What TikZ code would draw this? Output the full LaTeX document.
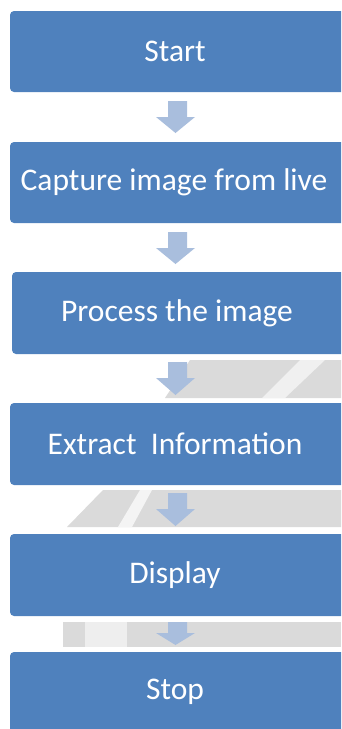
\documentclass[tikz,border=0pt]{standalone}
\usepackage{fontspec}
\setmainfont{Carlito}
\definecolor{boxblue}{HTML}{4F81BD}
\definecolor{arrowblue}{HTML}{A9BEDD}
\definecolor{wmgrey}{HTML}{DADADA}
\begin{document}
\begin{tikzpicture}[x=1pt,y=-1pt,
  stepbox/.style={fill=boxblue, rounded corners=4pt},
  steptext/.style={text=white, font=\fontsize{31.5}{34}\selectfont},
  flowarrow/.style={fill=arrowblue}]
\useasboundingbox (0,0) rectangle (341,729);
\clip (0,0) rectangle (341,729);
% watermark residue
\fill[wmgrey] (190,360) -- (341,360) -- (341,398) -- (165,398) -- cycle;
\fill[white!60!wmgrey] (300,360) -- (325,360) -- (285,398) -- (262,398) -- cycle;
\fill[wmgrey] (103,490) -- (341,490) -- (341,527) -- (67,527) -- cycle;
\fill[white!70!wmgrey] (140,490) -- (152,490) -- (132,527) -- (118,527) -- cycle;
\fill[wmgrey] (63,622) -- (341,622) -- (341,647) -- (63,647) -- cycle;
\fill[white!55!wmgrey] (85,622) -- (127,622) -- (127,647) -- (85,647) -- cycle;
% boxes
\path[stepbox] (10,11) rectangle (345,92);
\node[steptext] (start) at (175,51) {Start};
\path[stepbox] (10,142) rectangle (345,223);
\node[steptext] (capture) at (174,182) {Capture image from live};
\path[stepbox] (12,272) rectangle (345,354);
\node[steptext] (process) at (177,313) {Process the image};
\path[stepbox] (10,403) rectangle (345,485);
\node[steptext] (extract) at (175,444) {Extract\ \ Information};
\path[stepbox] (10,534) rectangle (345,616);
\node[steptext] (display) at (175,575) {Display};
\path[stepbox] (10,652) rectangle (345,740);
\node[steptext] (stop) at (175,692) {Stop};
% arrows
\fill[flowarrow] (168,101) -- (187,101) -- (187,117) -- (195,117) -- (175.5,133) -- (156,117) -- (168,117) -- cycle;
\fill[flowarrow] (168,232) -- (187,232) -- (187,248) -- (195,248) -- (175.5,264) -- (156,248) -- (168,248) -- cycle;
\fill[flowarrow] (168,362) -- (187,362) -- (187,378) -- (195,378) -- (175.5,395) -- (156,378) -- (168,378) -- cycle;
\fill[flowarrow] (168,493) -- (187,493) -- (187,509) -- (195,509) -- (175.5,526) -- (156,509) -- (168,509) -- cycle;
\fill[flowarrow] (168,622) -- (187,622) -- (187,633) -- (195,633) -- (175.5,645) -- (156,633) -- (168,633) -- cycle;
\end{tikzpicture}
\end{document}
